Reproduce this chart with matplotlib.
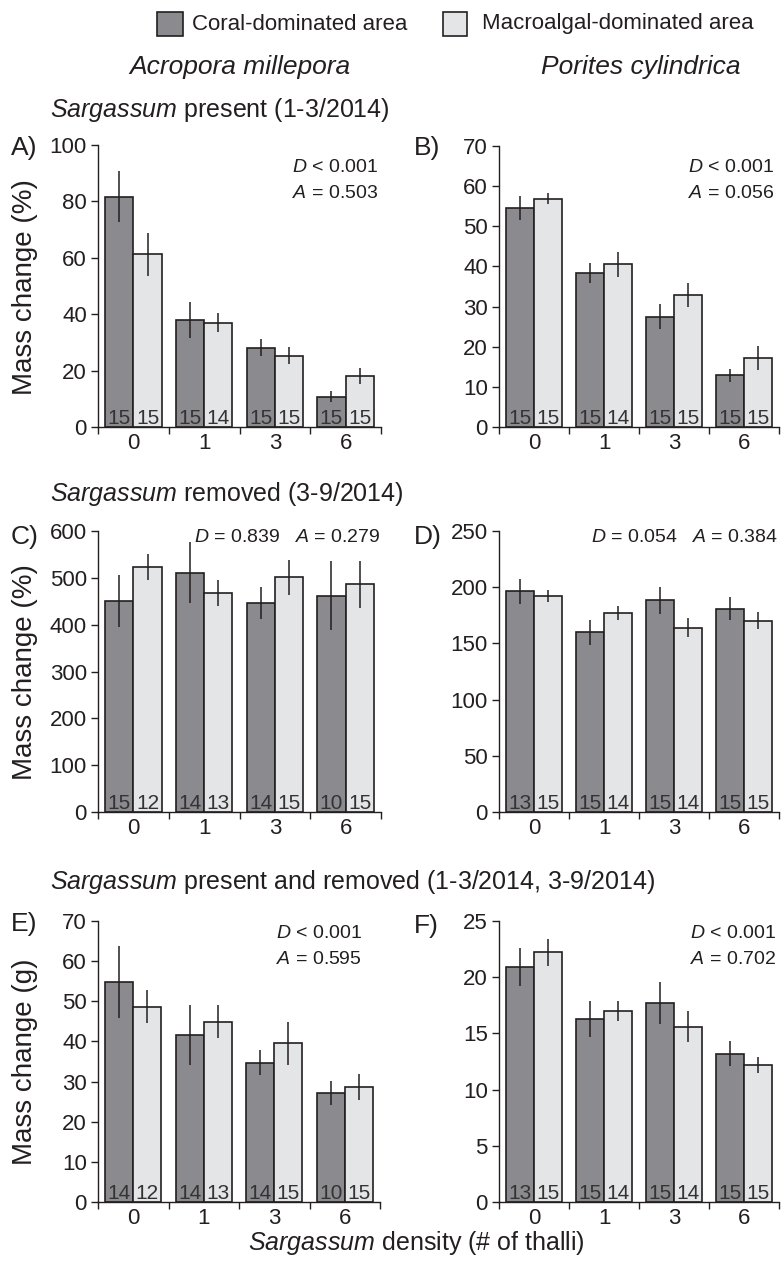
import numpy as np
import matplotlib
matplotlib.use("Agg")
import matplotlib.pyplot as plt
from matplotlib.patches import Rectangle

plt.rcParams['font.family'] = ['Liberation Sans', 'DejaVu Sans']
plt.rcParams['mathtext.fontset'] = 'custom'
plt.rcParams['mathtext.rm'] = 'Liberation Sans'
plt.rcParams['mathtext.it'] = 'Liberation Sans:italic'

# ---- data ----
densities = ['0', '1', '3', '6']

a_coral = [81.7, 37.9, 28.1, 10.8]
a_coral_se = [9.0, 6.5, 3.1, 1.8]
a_macro = [61.3, 37.0, 25.3, 18.2]
a_macro_se = [7.6, 3.4, 3.0, 2.8]
a_n_coral = [15, 15, 15, 15]
a_n_macro = [15, 14, 15, 15]

b_coral = [54.5, 38.3, 27.5, 12.9]
b_coral_se = [3.0, 2.5, 3.1, 1.6]
b_macro = [56.9, 40.5, 32.8, 17.2]
b_macro_se = [1.4, 3.1, 3.0, 2.9]
b_n_coral = [15, 15, 15, 15]
b_n_macro = [15, 14, 15, 15]

c_coral = [451, 511, 447, 462]
c_coral_se = [55, 65, 34, 74]
c_macro = [523, 468, 501, 486]
c_macro_se = [28, 28, 38, 50]
c_n_coral = [15, 14, 14, 10]
c_n_macro = [12, 13, 15, 15]

d_coral = [196.4, 160.0, 188.4, 181.0]
d_coral_se = [11, 11, 12, 10]
d_macro = [192.0, 177.0, 164.0, 170.0]
d_macro_se = [5.4, 6.6, 8.4, 7.5]
d_n_coral = [13, 15, 15, 15]
d_n_macro = [15, 14, 14, 15]

e_coral = [54.8, 41.6, 34.7, 27.1]
e_coral_se = [9.0, 7.5, 3.1, 3.0]
e_macro = [48.7, 44.9, 39.5, 28.6]
e_macro_se = [4.0, 4.1, 5.4, 3.3]
e_n_coral = [14, 14, 14, 10]
e_n_macro = [12, 13, 15, 15]

f_coral = [20.9, 16.3, 17.7, 13.2]
f_coral_se = [1.7, 1.6, 1.9, 1.1]
f_macro = [22.2, 17.0, 15.6, 12.2]
f_macro_se = [1.2, 0.9, 1.4, 0.7]
f_n_coral = [13, 15, 15, 15]
f_n_macro = [15, 14, 14, 15]

INK = '#231f20'
DARK = '#8b8a8f'
LIGHT = '#e4e5e7'

W, H = 781, 1263
fig = plt.figure(figsize=(W / 100, H / 100), dpi=100)


def rect(l, t, r, b):
    return [l / W, 1 - b / H, (r - l) / W, (b - t) / H]


def panel(box, coral, coral_se, macro, macro_se, n_coral, n_macro, ymax, ystep):
    ax = fig.add_axes(rect(*box))
    x = np.arange(len(densities)) + 0.5
    for xs, vals, se, col in [(x - 0.2, coral, coral_se, DARK), (x + 0.2, macro, macro_se, LIGHT)]:
        ax.bar(xs, vals, width=0.4, color=col, edgecolor=INK, linewidth=1.2, zorder=2)
        ax.vlines(xs, np.array(vals) - np.array(se), np.array(vals) + np.array(se),
                  color=INK, linewidth=1.1, zorder=3)
    for xs, ns in [(x - 0.2, n_coral), (x + 0.2, n_macro)]:
        for xi, n in zip(xs, ns):
            ax.annotate(str(n), (xi, 0), xytext=(0, -0.5), textcoords='offset points',
                        ha='center', va='bottom', fontsize=15, color='#333333', zorder=4)
    ax.set_xlim(0, 4)
    ax.set_ylim(0, ymax)
    ax.set_yticks(np.arange(0, ymax + ystep / 2, ystep))
    ax.set_xticks([0, 1, 2, 3, 4])
    ax.set_xticklabels([])
    ax.set_xticks(x, minor=True)
    ax.set_xticklabels(densities, minor=True)
    ax.tick_params(axis='x', which='major', length=5, width=1, color=INK, direction='out')
    ax.tick_params(axis='x', which='minor', length=0, pad=4, labelsize=16, labelcolor=INK)
    ax.tick_params(axis='y', length=5, width=1, color=INK, pad=3, labelsize=16, labelcolor=INK)
    for s in ['top', 'right']:
        ax.spines[s].set_visible(False)
    for s in ['left', 'bottom']:
        ax.spines[s].set_color(INK)
        ax.spines[s].set_linewidth(1)
    return ax


panel((98, 145, 381, 427), a_coral, a_coral_se, a_macro, a_macro_se, a_n_coral, a_n_macro, 100, 20)
panel((499, 146, 779, 427), b_coral, b_coral_se, b_macro, b_macro_se, b_n_coral, b_n_macro, 70, 10)
panel((98, 531, 381, 812), c_coral, c_coral_se, c_macro, c_macro_se, c_n_coral, c_n_macro, 600, 100)
panel((499, 531, 779, 812), d_coral, d_coral_se, d_macro, d_macro_se, d_n_coral, d_n_macro, 250, 50)
panel((98, 921, 380, 1202), e_coral, e_coral_se, e_macro, e_macro_se, e_n_coral, e_n_macro, 70, 10)
panel((499, 921, 779, 1202), f_coral, f_coral_se, f_macro, f_macro_se, f_n_coral, f_n_macro, 25, 5)


def ftext(px, py, s, **kw):
    kw.setdefault('color', INK)
    fig.text(px / W, 1 - py / H, s, **kw)


# stats
ftext(378, 167, r'$\mathit{D}$ < 0.001', ha='right', va='center', fontsize=14)
ftext(378, 193, r'$\mathit{A}$ = 0.503', ha='right', va='center', fontsize=14)
ftext(774, 167, r'$\mathit{D}$ < 0.001', ha='right', va='center', fontsize=14)
ftext(774, 193, r'$\mathit{A}$ = 0.056', ha='right', va='center', fontsize=14)
ftext(380, 538, r'$\mathit{D}$ = 0.839   $\mathit{A}$ = 0.279', ha='right', va='center', fontsize=14)
ftext(778, 538, r'$\mathit{D}$ = 0.054   $\mathit{A}$ = 0.384', ha='right', va='center', fontsize=14)
ftext(362, 934, r'$\mathit{D}$ < 0.001', ha='right', va='center', fontsize=14)
ftext(362, 960, r'$\mathit{A}$ = 0.595', ha='right', va='center', fontsize=14)
ftext(776, 934, r'$\mathit{D}$ < 0.001', ha='right', va='center', fontsize=14)
ftext(776, 960, r'$\mathit{A}$ = 0.702', ha='right', va='center', fontsize=14)

# panel letters
for lab, px, py in [('A)', 11, 148), ('B)', 414, 148), ('C)', 11, 537),
                    ('D)', 414, 537), ('E)', 11, 924), ('F)', 414, 926)]:
    ftext(px, py, lab, ha='left', va='center', fontsize=19)

# y labels
ftext(25, 287, 'Mass change (%)', rotation=90, ha='center', va='center', fontsize=20)
ftext(25, 672, 'Mass change (%)', rotation=90, ha='center', va='center', fontsize=20)
ftext(25, 1062, 'Mass change (g)', rotation=90, ha='center', va='center', fontsize=20)

# section titles
ftext(50, 110, r'$\mathit{Sargassum}$ present (1-3/2014)', ha='left', va='center', fontsize=18)
ftext(50, 494, r'$\mathit{Sargassum}$ removed (3-9/2014)', ha='left', va='center', fontsize=18)
ftext(50, 882, r'$\mathit{Sargassum}$ present and removed (1-3/2014, 3-9/2014)',
      ha='left', va='center', fontsize=18)

# column titles
ftext(240, 67, 'Acropora millepora', ha='center', va='center', fontsize=19, style='italic')
ftext(641, 67, 'Porites cylindrica', ha='center', va='center', fontsize=19, style='italic')

# x label
ftext(416, 1243, r'$\mathit{Sargassum}$ density (# of thalli)', ha='center', va='center', fontsize=18)

# legend
for (l, t, r, b), col, lab, tx in [((157, 12, 183, 36), DARK, 'Coral-dominated area', 192),
                                   ((443, 12, 467, 36), LIGHT, 'Macroalgal-dominated area', 482)]:
    fig.add_artist(Rectangle((l / W, 1 - b / H), (r - l) / W, (b - t) / H,
                             transform=fig.transFigure, facecolor=col, edgecolor=INK, linewidth=1.2))
    ftext(tx, 24, lab, ha='left', va='center', fontsize=16)

fig.savefig('out.png', dpi=100)
